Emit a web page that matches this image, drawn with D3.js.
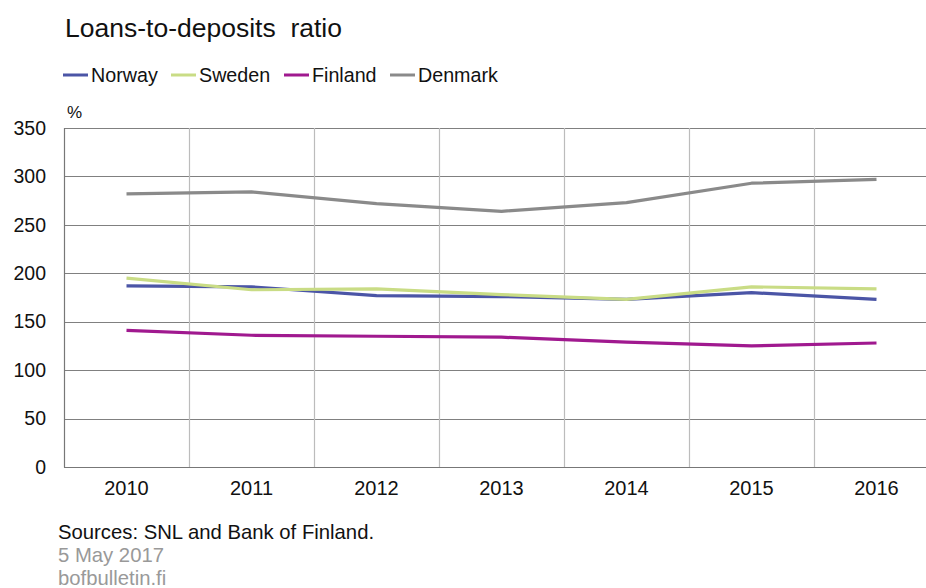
<!DOCTYPE html>
<html>
<head>
<meta charset="utf-8">
<script src="https://cdn.jsdelivr.net/npm/d3@7"></script>
<style>
body { margin: 0; background: #fff; }
svg { display: block; font-family: "Liberation Sans", Arial, sans-serif; }
</style>
</head>
<body>
<svg id="chart" width="926" height="588"></svg>
<script>
const years = ["2010", "2011", "2012", "2013", "2014", "2015", "2016"];
const norway  = [187, 186, 177, 176, 173, 180, 173];
const sweden  = [195, 183, 184, 178, 173, 186, 184];
const finland = [141, 136, 135, 134, 129, 125, 128];
const denmark = [282, 284, 272, 264, 273, 293, 297];
const yTicks = [0, 50, 100, 150, 200, 250, 300, 350];

const seriesNames = ["Norway", "Sweden", "Finland", "Denmark"];
const seriesColors = ["#4b55a6", "#c9dc85", "#a0198f", "#8a8a8a"];
const seriesValues = [norway, sweden, finland, denmark];

const svg = d3.select("#chart");
const pLeft = 64, pRight = 939, pTop = 128, pBottom = 467;

const x = d3.scaleBand().domain(years).range([pLeft, pRight]).padding(0);
const y = d3.scaleLinear().domain([0, 350]).range([pBottom, pTop]);

// Title
svg.append("text").attr("x", 65).attr("y", 37)
  .attr("font-size", 26.5).attr("fill", "#111").attr("xml:space", "preserve")
  .text("Loans-to-deposits  ratio");

// Legend
const legendPos = [[63, 91], [171, 199], [284, 312], [390, 418]];
seriesNames.forEach((n, i) => {
  const g = svg.append("g");
  g.append("line").attr("x1", legendPos[i][0]).attr("x2", legendPos[i][1] - 3)
    .attr("y1", 75).attr("y2", 75).attr("stroke", seriesColors[i]).attr("stroke-width", 3);
  g.append("text").attr("x", legendPos[i][1]).attr("y", 81.5)
    .attr("font-size", 19.7).attr("fill", "#111").text(n);
});

// % label
svg.append("text").attr("x", 67).attr("y", 118).attr("font-size", 17).attr("fill", "#111").text("%");

// Horizontal gridlines
svg.append("g").selectAll("line").data(yTicks.filter(d => d > 0)).join("line")
  .attr("x1", pLeft).attr("x2", pRight)
  .attr("y1", d => Math.round(y(d)) + 0.5).attr("y2", d => Math.round(y(d)) + 0.5)
  .attr("stroke", "#808080").attr("stroke-width", 1.2);

// Vertical gridlines
svg.append("g").selectAll("line").data(years.slice(1)).join("line")
  .attr("x1", d => Math.round(x(d)) + 0.5).attr("x2", d => Math.round(x(d)) + 0.5)
  .attr("y1", pTop).attr("y2", pBottom)
  .attr("stroke", "#bcbcbc").attr("stroke-width", 1.2);

// Axes lines
svg.append("line").attr("x1", pLeft + 0.5).attr("x2", pLeft + 0.5).attr("y1", pTop).attr("y2", pBottom + 0.5)
  .attr("stroke", "#777").attr("stroke-width", 1.2);
svg.append("line").attr("x1", pLeft).attr("x2", pRight).attr("y1", pBottom + 0.5).attr("y2", pBottom + 0.5)
  .attr("stroke", "#777").attr("stroke-width", 1.2);

// Y tick labels
const yAxis = d3.axisLeft(y).tickValues(yTicks).tickSize(0).tickPadding(0);
const ya = svg.append("g").attr("transform", `translate(${46},0)`).call(yAxis);
ya.select(".domain").remove();
ya.selectAll("text").attr("font-size", 19.5).attr("fill", "#111")
  .attr("font-family", "Liberation Sans, Arial, sans-serif");

// X tick labels
const xAxis = d3.axisBottom(x).tickSize(0).tickPadding(0);
const xa = svg.append("g").attr("transform", `translate(0,${481})`).call(xAxis);
xa.select(".domain").remove();
xa.selectAll("text").attr("font-size", 20).attr("fill", "#111")
  .attr("font-family", "Liberation Sans, Arial, sans-serif");

// Lines
const line = d3.line().x((d, i) => x(years[i]) + x.bandwidth() / 2).y(d => y(d));
seriesValues.forEach((vals, i) => {
  svg.append("path").datum(vals).attr("d", line)
    .attr("fill", "none").attr("stroke", seriesColors[i]).attr("stroke-width", 3.2)
    .attr("stroke-linejoin", "round");
});

// Footer
svg.append("text").attr("x", 58).attr("y", 539).attr("font-size", 20.3).attr("fill", "#111")
  .text("Sources: SNL and Bank of Finland.");
svg.append("text").attr("x", 58).attr("y", 562).attr("font-size", 20.3).attr("fill", "#999")
  .text("5 May 2017");
svg.append("text").attr("x", 58).attr("y", 585).attr("font-size", 20.3).attr("fill", "#999")
  .text("bofbulletin.fi");
</script>
</body>
</html>
